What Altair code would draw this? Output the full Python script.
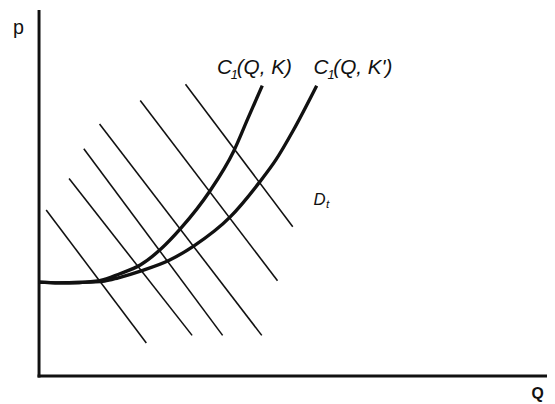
import altair as alt
import pandas as pd

# Cost curve C1(Q, K)
CK_Q = [0, 0.4, 0.8, 1.2, 1.6, 2.0, 2.4, 2.8, 3.36, 3.84, 4.12, 4.40]
CK_P = [2.56, 2.54, 2.55, 2.60, 2.79, 3.03, 3.46, 4.04, 5.04, 6.16, 7.06, 7.95]
# Cost curve C1(Q, K')
CK2_Q = [0, 0.4, 0.8, 1.3, 1.57, 2.02, 2.57, 3.05, 3.77, 4.35, 4.67, 5.0, 5.47]
CK2_P = [2.56, 2.54, 2.55, 2.59, 2.68, 2.87, 3.16, 3.55, 4.35, 5.31, 5.92, 6.70, 7.95]

# Demand lines D_t (start / end points)
D_Q1 = [0.15, 0.60, 0.89, 1.20, 2.00, 2.89]
D_P1 = [4.54, 5.40, 6.22, 6.90, 7.54, 7.99]
D_Q2 = [2.12, 3.02, 3.62, 4.39, 4.70, 5.00]
D_P2 = [0.89, 1.10, 1.10, 1.10, 2.60, 4.08]

# Labels
LBL_MAIN = ["C", "C"]
LBL_SUB = ["1", "1"]
LBL_REST = ["(Q, K)", "(Q, K')"]
LBL_Q = [3.51, 5.41]
LBL_P = [8.28, 8.28]
DT_Q = [5.41]
DT_P = [4.68]

INK = "#111111"
FONT = "Liberation Sans"

curves = pd.DataFrame({
    "Q": CK_Q + CK2_Q,
    "p": CK_P + CK2_P,
    "curve": ["K"] * len(CK_Q) + ["K'"] * len(CK2_Q),
})
demand = pd.DataFrame({"Q1": D_Q1, "p1": D_P1, "Q2": D_Q2, "p2": D_P2,
                       "id": list(range(len(D_Q1)))})
labels = pd.DataFrame({"Q": LBL_Q, "p": LBL_P, "main": LBL_MAIN,
                       "sub": LBL_SUB, "rest": LBL_REST})
dlab = pd.DataFrame({"Q": DT_Q, "p": DT_P, "main": ["D"], "sub": ["t"]})

xs = alt.Scale(domain=[0, 10], nice=False, zero=False)
ys = alt.Scale(domain=[0, 10], nice=False, zero=False)

xaxis = alt.Axis(domain=True, domainWidth=3, domainColor=INK, domainCap="square",
                 ticks=False, labels=False, grid=False,
                 title="Q", titleAngle=0, titleX=506, titleY=23,
                 titleAlign="center", titleBaseline="alphabetic",
                 titleFont=FONT, titleFontSize=16, titleFontWeight="bold",
                 titleColor=INK)
yaxis = alt.Axis(domain=True, domainWidth=3, domainColor=INK, domainCap="square",
                 ticks=False, labels=False, grid=False,
                 title="p", titleAngle=0, titleX=-21, titleY=23,
                 titleAlign="center", titleBaseline="alphabetic",
                 titleFont=FONT, titleFontSize=20, titleFontWeight="normal",
                 titleColor=INK)

demand_layer = alt.Chart(demand).mark_rule(color=INK, strokeWidth=1.6).encode(
    x=alt.X("Q1:Q", scale=xs, axis=xaxis),
    y=alt.Y("p1:Q", scale=ys, axis=yaxis),
    x2="Q2:Q",
    y2="p2:Q",
    detail="id:N",
)

curve_layer = alt.Chart(curves).mark_line(
    color=INK, strokeWidth=3.4, interpolate="monotone"
).encode(
    x=alt.X("Q:Q", scale=xs),
    y=alt.Y("p:Q", scale=ys),
    detail="curve:N",
)

def txt(df, field, size, dx=0, dy=0):
    return alt.Chart(df).mark_text(
        font=FONT, fontSize=size, fontStyle="italic", color=INK,
        align="left", baseline="alphabetic", dx=dx, dy=dy,
    ).encode(x=alt.X("Q:Q", scale=xs), y=alt.Y("p:Q", scale=ys), text=f"{field}:N")

label_layers = [
    txt(labels, "main", 21),
    txt(labels, "sub", 13, dx=14, dy=5),
    txt(labels, "rest", 21, dx=20),
    txt(dlab, "main", 17),
    txt(dlab, "sub", 12, dx=12.5, dy=3),
]

chart = alt.layer(demand_layer, curve_layer, *label_layers).properties(
    width=516, height=370,
    autosize=alt.AutoSizeParams(type="none"),
    padding={"left": 31, "top": 0, "right": 0, "bottom": 26},
).configure_view(strokeWidth=0)

chart.save("out.html", embed_options={"renderer": "svg", "actions": False})
